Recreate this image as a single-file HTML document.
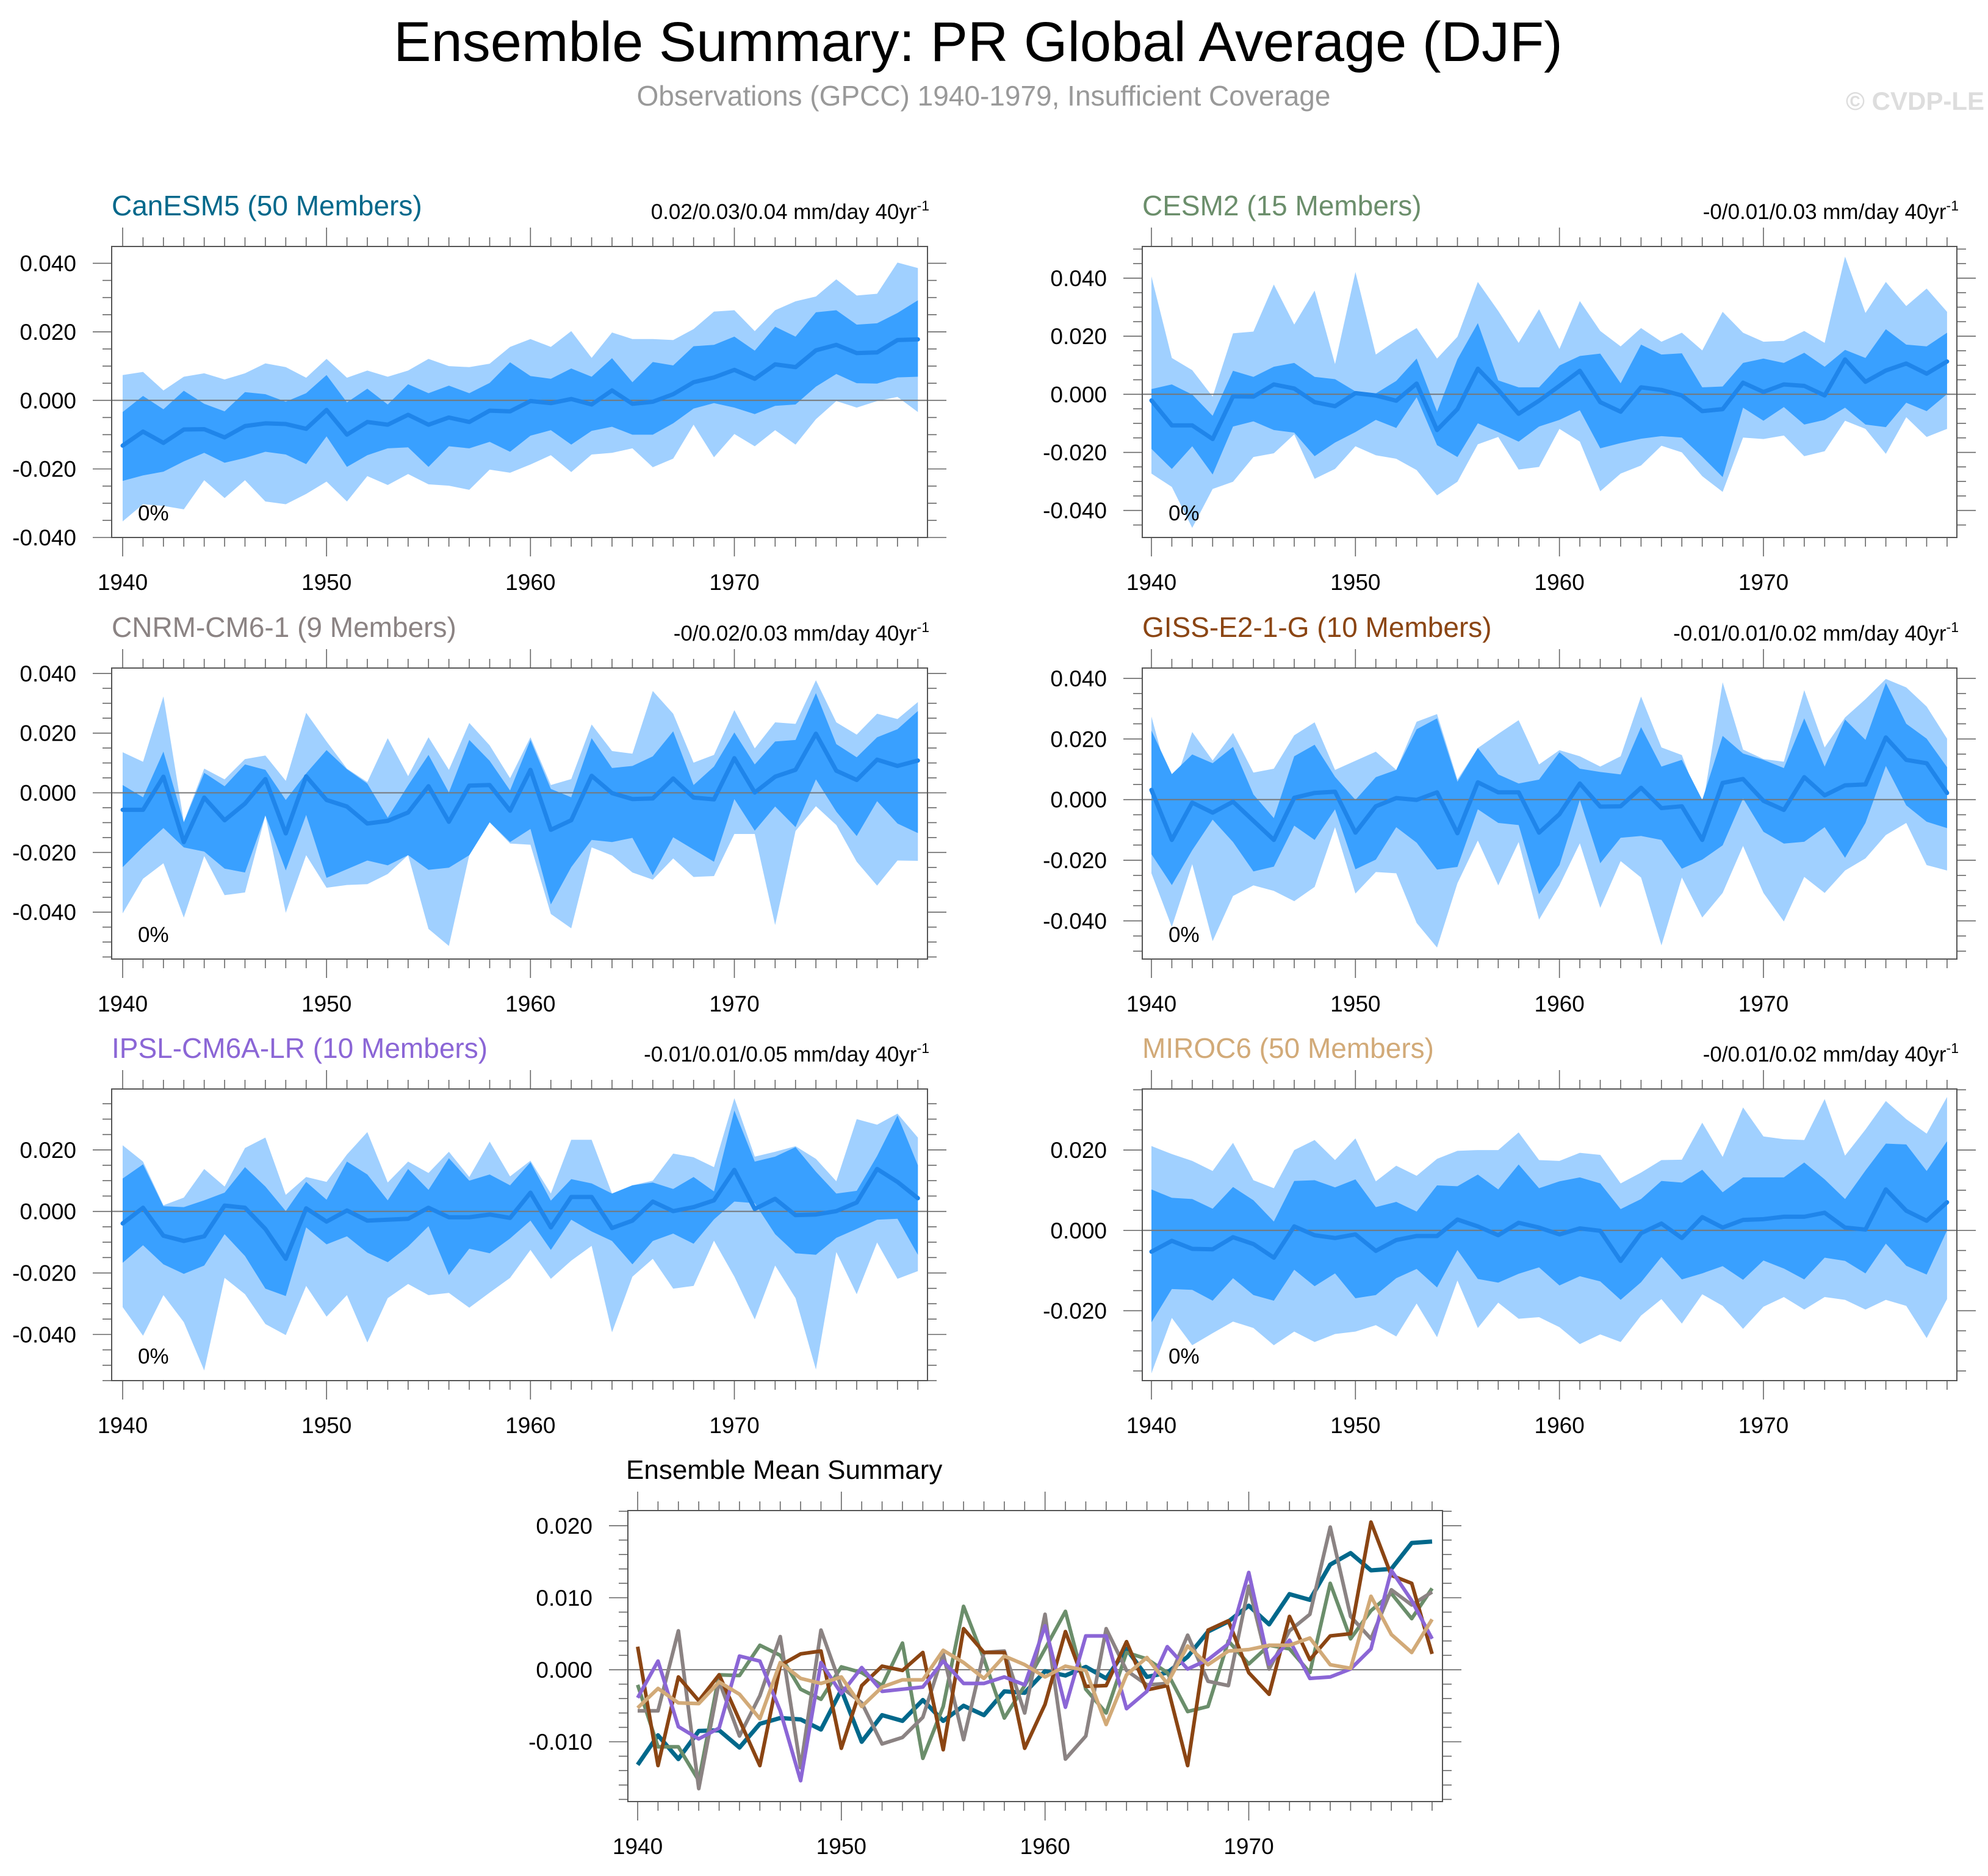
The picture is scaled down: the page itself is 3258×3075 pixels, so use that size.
<!DOCTYPE html>
<html><head><meta charset="utf-8"><title>Ensemble Summary: PR Global Average (DJF)</title>
<style>
html,body{margin:0;padding:0;background:#fff;}
svg{display:block;font-family:"Liberation Sans",Arial,sans-serif;}
</style></head>
<body>
<svg id="chart" xmlns="http://www.w3.org/2000/svg" width="3258" height="3075" viewBox="0 0 3258 3075">
<rect x="0" y="0" width="3258" height="3075" fill="#fff"/>
<text x="1603" y="100" font-size="92" text-anchor="middle" fill="#000">Ensemble Summary: PR Global Average (DJF)</text>
<text x="1612" y="173" font-size="46" text-anchor="middle" fill="#999">Observations (GPCC) 1940-1979, Insufficient Coverage</text>
<text x="3252" y="180" font-size="42" font-weight="bold" text-anchor="end" fill="#ddd">© CVDP-LE</text>
</svg>
<script>
const years=[1940,1941,1942,1943,1944,1945,1946,1947,1948,1949,1950,1951,1952,1953,1954,1955,1956,1957,1958,1959,1960,1961,1962,1963,1964,1965,1966,1967,1968,1969,1970,1971,1972,1973,1974,1975,1976,1977,1978,1979];
const xTickLabels=[1940,1950,1960,1970];
const ticksA=[-0.04,-0.02,0,0.02,0.04];
const ticksIpsl=[-0.04,-0.02,0,0.02];
const ticksMiroc=[-0.02,0,0.02];
const ticksMean=[-0.01,0,0.01,0.02];

const canMean=[-0.0132,-0.0091,-0.0124,-0.0085,-0.0084,-0.0108,-0.0075,-0.0067,-0.0069,-0.0083,-0.0028,-0.0100,-0.0063,-0.0071,-0.0042,-0.0071,-0.0050,-0.0063,-0.0030,-0.0032,-0.0002,-0.0008,0.0004,-0.0012,0.0029,-0.0010,-0.0004,0.0018,0.0053,0.0067,0.0089,0.0063,0.0105,0.0097,0.0146,0.0162,0.0138,0.0140,0.0176,0.0178];
const canHi=[-0.0034,0.0013,-0.0026,0.0028,-0.0010,-0.0032,0.0024,0.0018,-0.0004,0.0021,0.0074,-0.0006,0.0034,-0.0012,0.0047,0.0021,0.0043,0.0021,0.0051,0.0111,0.0071,0.0063,0.0093,0.0069,0.0123,0.0053,0.0112,0.0102,0.0158,0.0162,0.0186,0.0145,0.0215,0.0186,0.0257,0.0263,0.0221,0.0225,0.0255,0.0292];
const canLo=[-0.0235,-0.0219,-0.0208,-0.0178,-0.0153,-0.0182,-0.0168,-0.0150,-0.0158,-0.0186,-0.0105,-0.0194,-0.0160,-0.0140,-0.0137,-0.0194,-0.0134,-0.0140,-0.0121,-0.0150,-0.0103,-0.0087,-0.0129,-0.0089,-0.0077,-0.0100,-0.0100,-0.0067,-0.0024,-0.0008,-0.0021,-0.0040,-0.0016,-0.0012,0.0040,0.0077,0.0050,0.0049,0.0067,0.0069];
const canMax=[0.0074,0.0083,0.0029,0.0069,0.0079,0.0061,0.0079,0.0108,0.0097,0.0066,0.0121,0.0066,0.0087,0.0069,0.0087,0.0121,0.0100,0.0097,0.0107,0.0156,0.0179,0.0156,0.0202,0.0124,0.0198,0.0179,0.0179,0.0176,0.0208,0.0259,0.0263,0.0202,0.0263,0.0289,0.0303,0.0353,0.0306,0.0311,0.0402,0.0386];
const canMin=[-0.0353,-0.0303,-0.0308,-0.0318,-0.0233,-0.0285,-0.0233,-0.0295,-0.0303,-0.0273,-0.0237,-0.0295,-0.0221,-0.0247,-0.0215,-0.0245,-0.0249,-0.0261,-0.0202,-0.0211,-0.0187,-0.0160,-0.0209,-0.0158,-0.0153,-0.0140,-0.0195,-0.0170,-0.0071,-0.0166,-0.0098,-0.0134,-0.0087,-0.0129,-0.0055,-0.0002,-0.0021,-0.0002,0.0010,-0.0034];

const cesmMean=[-0.0021,-0.0107,-0.0107,-0.0154,-0.0007,-0.0008,0.0034,0.0020,-0.0027,-0.0041,0.0004,-0.0004,-0.0022,0.0037,-0.0123,-0.0051,0.0088,0.0015,-0.0067,-0.0022,0.0029,0.0081,-0.0027,-0.0060,0.0024,0.0015,-0.0004,-0.0058,-0.0051,0.0040,0.0008,0.0034,0.0029,-0.0004,0.0120,0.0043,0.0082,0.0106,0.0071,0.0113];
const cesmHi=[0.0018,0.0034,-0.0001,-0.0074,0.0081,0.0060,0.0095,0.0108,0.0060,0.0052,0.0010,0.0003,0.0046,0.0123,-0.0060,0.0121,0.0245,0.0048,0.0024,0.0024,0.0099,0.0132,0.0140,0.0038,0.0171,0.0137,0.0141,0.0024,0.0027,0.0108,0.0123,0.0108,0.0143,0.0095,0.0153,0.0125,0.0224,0.0171,0.0165,0.0212];
const cesmLo=[-0.0188,-0.0257,-0.0179,-0.0276,-0.0111,-0.0093,-0.0123,-0.0132,-0.0213,-0.0166,-0.0130,-0.0088,-0.0116,-0.0010,-0.0175,-0.0216,-0.0100,-0.0130,-0.0163,-0.0111,-0.0088,-0.0055,-0.0186,-0.0168,-0.0153,-0.0144,-0.0149,-0.0215,-0.0285,-0.0046,-0.0091,-0.0044,-0.0104,-0.0088,-0.0046,-0.0104,-0.0113,-0.0029,-0.0058,0.0001];
const cesmMax=[0.0406,0.0125,0.0083,-0.0008,0.0210,0.0216,0.0378,0.0240,0.0357,0.0104,0.0421,0.0137,0.0186,0.0228,0.0123,0.0198,0.0387,0.0287,0.0177,0.0293,0.0156,0.0321,0.0218,0.0165,0.0228,0.0181,0.0212,0.0151,0.0284,0.0212,0.0181,0.0184,0.0218,0.0177,0.0474,0.0280,0.0387,0.0304,0.0364,0.0284];
const cesmMin=[-0.0273,-0.0319,-0.0460,-0.0326,-0.0301,-0.0216,-0.0203,-0.0138,-0.0291,-0.0257,-0.0179,-0.0210,-0.0222,-0.0261,-0.0348,-0.0301,-0.0172,-0.0147,-0.0259,-0.0250,-0.0119,-0.0163,-0.0334,-0.0273,-0.0245,-0.0177,-0.0200,-0.0282,-0.0336,-0.0149,-0.0154,-0.0142,-0.0213,-0.0196,-0.0091,-0.0119,-0.0205,-0.0079,-0.0147,-0.0119];

const cnrmMean=[-0.0057,-0.0057,0.0054,-0.0165,-0.0016,-0.0092,-0.0036,0.0046,-0.0136,0.0055,-0.0024,-0.0046,-0.0103,-0.0094,-0.0066,0.0022,-0.0097,0.0024,0.0026,-0.0060,0.0077,-0.0124,-0.0092,0.0057,-0.0001,-0.0021,-0.0019,0.0048,-0.0016,-0.0022,0.0116,0.0001,0.0054,0.0077,0.0198,0.0074,0.0043,0.0111,0.0090,0.0108];
const cnrmHi=[0.0026,-0.0015,0.0138,-0.0099,0.0067,0.0022,0.0095,0.0077,-0.0024,0.0065,0.0143,0.0079,0.0031,-0.0083,0.0025,0.0127,0.0001,0.0177,0.0107,0.0008,0.0177,0.0013,-0.0015,0.0183,0.0083,0.0090,0.0122,0.0206,0.0026,0.0088,0.0202,0.0095,0.0172,0.0177,0.0334,0.0163,0.0119,0.0186,0.0213,0.0274];
const cnrmLo=[-0.0249,-0.0181,-0.0118,-0.0183,-0.0197,-0.0254,-0.0267,-0.0076,-0.0260,-0.0074,-0.0285,-0.0256,-0.0227,-0.0243,-0.0209,-0.0258,-0.0251,-0.0209,-0.0099,-0.0165,-0.0121,-0.0374,-0.0249,-0.0158,-0.0165,-0.0151,-0.0276,-0.0149,-0.0190,-0.0231,-0.0021,-0.0127,-0.0046,-0.0115,0.0045,-0.0063,-0.0145,-0.0028,-0.0103,-0.0135];
const cnrmMax=[0.0136,0.0104,0.0323,-0.0097,0.0081,0.0045,0.0113,0.0125,0.0040,0.0268,0.0172,0.0081,0.0036,0.0183,0.0056,0.0186,0.0077,0.0234,0.0159,0.0049,0.0186,0.0026,0.0046,0.0229,0.0140,0.0131,0.0341,0.0265,0.0101,0.0127,0.0277,0.0149,0.0236,0.0231,0.0377,0.0236,0.0195,0.0265,0.0247,0.0304];
const cnrmMin=[-0.0404,-0.0288,-0.0236,-0.0418,-0.0212,-0.0343,-0.0334,-0.0076,-0.0402,-0.0209,-0.0318,-0.0309,-0.0306,-0.0272,-0.0209,-0.0456,-0.0513,-0.0209,-0.0099,-0.0170,-0.0174,-0.0406,-0.0454,-0.0183,-0.0210,-0.0267,-0.0291,-0.0220,-0.0282,-0.0279,-0.0138,-0.0138,-0.0443,-0.0128,-0.0045,-0.0108,-0.0231,-0.0311,-0.0227,-0.0228];

const gissMean=[0.0032,-0.0133,-0.0010,-0.0043,-0.0007,-0.0070,-0.0133,0.0006,0.0022,0.0026,-0.0109,-0.0022,0.0005,-0.0001,0.0024,-0.0111,0.0057,0.0024,0.0024,-0.0109,-0.0048,0.0053,-0.0023,-0.0022,0.0039,-0.0028,-0.0022,-0.0133,0.0055,0.0068,-0.0004,-0.0034,0.0074,0.0014,0.0047,0.0050,0.0205,0.0131,0.0120,0.0022];
const gissHi=[0.0228,0.0084,0.0149,0.0120,0.0174,0.0017,-0.0061,0.0143,0.0181,0.0075,-0.0001,0.0074,0.0098,0.0232,0.0268,0.0059,0.0170,0.0083,0.0053,0.0066,0.0156,0.0102,0.0091,0.0083,0.0239,0.0109,0.0131,-0.0001,0.0210,0.0152,0.0131,0.0104,0.0268,0.0109,0.0264,0.0197,0.0385,0.0250,0.0201,0.0107];
const gissLo=[-0.0180,-0.0282,-0.0167,-0.0066,-0.0140,-0.0237,-0.0221,-0.0086,-0.0133,-0.0032,-0.0230,-0.0198,-0.0091,-0.0142,-0.0231,-0.0222,-0.0032,-0.0077,-0.0084,-0.0312,-0.0216,-0.0001,-0.0210,-0.0126,-0.0120,-0.0133,-0.0228,-0.0198,-0.0151,0.0004,-0.0106,-0.0145,-0.0139,-0.0091,-0.0192,-0.0077,0.0111,-0.0019,-0.0073,-0.0094];
const gissMax=[0.0274,0.0026,0.0223,0.0129,0.0220,0.0089,0.0102,0.0212,0.0255,0.0098,0.0128,0.0158,0.0098,0.0257,0.0282,0.0066,0.0170,0.0217,0.0262,0.0116,0.0163,0.0143,0.0109,0.0143,0.0340,0.0172,0.0147,-0.0032,0.0387,0.0165,0.0134,0.0125,0.0361,0.0172,0.0271,0.0331,0.0398,0.0370,0.0307,0.0201];
const gissMin=[-0.0243,-0.0420,-0.0213,-0.0467,-0.0318,-0.0283,-0.0301,-0.0335,-0.0288,-0.0091,-0.0310,-0.0239,-0.0243,-0.0407,-0.0488,-0.0276,-0.0135,-0.0283,-0.0140,-0.0396,-0.0283,-0.0144,-0.0357,-0.0203,-0.0257,-0.0481,-0.0257,-0.0389,-0.0308,-0.0153,-0.0308,-0.0402,-0.0255,-0.0308,-0.0234,-0.0194,-0.0117,-0.0077,-0.0216,-0.0234];

const ipslMean=[-0.0039,0.0012,-0.0079,-0.0096,-0.0081,0.0019,0.0012,-0.0057,-0.0154,0.0010,-0.0033,0.0003,-0.0030,-0.0027,-0.0024,0.0012,-0.0019,-0.0019,-0.0010,-0.0021,0.0061,-0.0052,0.0047,0.0047,-0.0054,-0.0030,0.0032,0.0001,0.0014,0.0036,0.0135,0.0008,0.0041,-0.0012,-0.0010,0.0001,0.0029,0.0138,0.0096,0.0043];
const ipslHi=[0.0107,0.0153,0.0017,0.0014,0.0036,0.0061,0.0144,0.0081,0.0001,0.0096,0.0038,0.0162,0.0120,0.0036,0.0138,0.0070,0.0173,0.0100,0.0120,0.0085,0.0160,0.0035,0.0105,0.0091,0.0058,0.0085,0.0094,0.0073,0.0112,0.0065,0.0328,0.0162,0.0178,0.0209,0.0129,0.0058,0.0067,0.0180,0.0312,0.0150];
const ipslLo=[-0.0167,-0.0110,-0.0172,-0.0203,-0.0176,-0.0074,-0.0145,-0.0251,-0.0275,-0.0052,-0.0107,-0.0081,-0.0134,-0.0165,-0.0114,-0.0048,-0.0207,-0.0121,-0.0136,-0.0088,-0.0030,-0.0125,-0.0027,-0.0065,-0.0096,-0.0172,-0.0096,-0.0072,-0.0105,-0.0026,0.0032,0.0027,-0.0074,-0.0136,-0.0141,-0.0086,-0.0057,-0.0027,-0.0024,-0.0141];
const ipslMax=[0.0215,0.0162,0.0020,0.0045,0.0138,0.0081,0.0206,0.0240,0.0054,0.0112,0.0096,0.0185,0.0258,0.0094,0.0162,0.0125,0.0194,0.0112,0.0227,0.0114,0.0165,0.0058,0.0233,0.0233,0.0058,0.0085,0.0100,0.0188,0.0176,0.0144,0.0368,0.0178,0.0194,0.0212,0.0171,0.0098,0.0300,0.0282,0.0318,0.0240];
const ipslMin=[-0.0311,-0.0404,-0.0272,-0.0360,-0.0517,-0.0216,-0.0269,-0.0366,-0.0402,-0.0242,-0.0342,-0.0272,-0.0426,-0.0282,-0.0236,-0.0272,-0.0265,-0.0313,-0.0264,-0.0216,-0.0125,-0.0219,-0.0160,-0.0112,-0.0393,-0.0212,-0.0154,-0.0251,-0.0242,-0.0095,-0.0212,-0.0351,-0.0176,-0.0282,-0.0514,-0.0132,-0.0269,-0.0101,-0.0219,-0.0194];

const mirocMean=[-0.0053,-0.0026,-0.0046,-0.0047,-0.0017,-0.0034,-0.0068,0.0010,-0.0012,-0.0019,-0.0010,-0.0051,-0.0024,-0.0014,-0.0014,0.0027,0.0010,-0.0012,0.0019,0.0007,-0.0010,0.0005,-0.0001,-0.0076,-0.0007,0.0017,-0.0019,0.0033,0.0007,0.0026,0.0028,0.0034,0.0034,0.0044,0.0007,0.0002,0.0102,0.0049,0.0024,0.0070];
const mirocHi=[0.0102,0.0081,0.0078,0.0054,0.0108,0.0075,0.0022,0.0123,0.0125,0.0107,0.0127,0.0058,0.0071,0.0047,0.0112,0.0110,0.0139,0.0102,0.0164,0.0105,0.0122,0.0132,0.0117,0.0053,0.0078,0.0123,0.0119,0.0151,0.0095,0.0132,0.0132,0.0132,0.0169,0.0127,0.0078,0.0149,0.0216,0.0214,0.0148,0.0222];
const mirocLo=[-0.0229,-0.0146,-0.0148,-0.0175,-0.0119,-0.0161,-0.0175,-0.0098,-0.0139,-0.0107,-0.0169,-0.0161,-0.0119,-0.0096,-0.0142,-0.0049,-0.0121,-0.0130,-0.0108,-0.0092,-0.0137,-0.0114,-0.0127,-0.0173,-0.0129,-0.0066,-0.0122,-0.0107,-0.0089,-0.0123,-0.0075,-0.0095,-0.0122,-0.0068,-0.0076,-0.0107,-0.0033,-0.0088,-0.0110,0.0000];
const mirocMax=[0.0210,0.0190,0.0173,0.0148,0.0218,0.0125,0.0105,0.0200,0.0225,0.0175,0.0229,0.0122,0.0161,0.0136,0.0178,0.0198,0.0200,0.0200,0.0244,0.0175,0.0173,0.0193,0.0188,0.0117,0.0144,0.0175,0.0176,0.0268,0.0183,0.0306,0.0234,0.0227,0.0225,0.0327,0.0186,0.0251,0.0322,0.0277,0.0241,0.0332];
const mirocMin=[-0.0356,-0.0218,-0.0286,-0.0256,-0.0227,-0.0243,-0.0286,-0.0252,-0.0278,-0.0258,-0.0252,-0.0236,-0.0264,-0.0182,-0.0266,-0.0125,-0.0243,-0.0180,-0.0220,-0.0216,-0.0241,-0.0283,-0.0259,-0.0278,-0.0212,-0.0171,-0.0232,-0.0159,-0.0188,-0.0245,-0.0190,-0.0166,-0.0197,-0.0166,-0.0173,-0.0197,-0.0173,-0.0188,-0.0268,-0.0171];

const modelNames=["CanESM5 (50 Members)","CESM2 (15 Members)","CNRM-CM6-1 (9 Members)","GISS-E2-1-G (10 Members)","IPSL-CM6A-LR (10 Members)","MIROC6 (50 Members)"];
const trendLabels=["0.02/0.03/0.04 mm/day 40yr","-0/0.01/0.03 mm/day 40yr","-0/0.02/0.03 mm/day 40yr","-0.01/0.01/0.02 mm/day 40yr","-0.01/0.01/0.05 mm/day 40yr","-0/0.01/0.02 mm/day 40yr"];

const NS='http://www.w3.org/2000/svg';
const svg=document.getElementById('chart');
function mk(tag,attrs,parent){const e=document.createElementNS(NS,tag);for(const k in attrs)e.setAttribute(k,attrs[k]);(parent||svg).appendChild(e);return e;}
function fmt(v){const s=Math.abs(v).toFixed(3);return (v<-1e-9?'-':'')+s;}

const L={left:183,right:1520,x0:201,x70:1203.5};
const R={left:1872,right:3207,x0:1887,x70:2890};
const rowTop=[404,1095,1785], rowBot=[881,1572,2263];
const colors=["#00688b","#6b8e6b","#8b8383","#8b4513","#8b66d6","#d2aa78"];
const TC='#666', TW=1.6;

function drawAxes(g,c){
  const xs=y=>c.x0+(y-1940)*(c.x70-c.x0)/30;
  const ys=v=>c.bottom-(v-c.dom[0])/(c.dom[1]-c.dom[0])*(c.bottom-c.top);
  c.xs=xs;c.ys=ys;
  years.forEach(yr=>{
    const major=xTickLabels.indexOf(yr)>=0;const len=major?31:15;const x=xs(yr);
    const t1=mk('line',{x1:x,x2:x,y1:c.top,y2:c.top-len,stroke:TC,'stroke-width':TW},g);
    
    
    const t2=mk('line',{x1:x,x2:x,y1:c.bottom,y2:c.bottom+len,stroke:TC,'stroke-width':TW},g);
    
    
  });
  xTickLabels.forEach(yr=>{
    const t=mk('text',{x:xs(yr),y:c.bottom+86,'font-size':37,'text-anchor':'middle',fill:'#000'},g);
    t.textContent=yr;
    
    
  });
  const st=c.minor;
  for(let v=Math.ceil(c.dom[0]/st-1e-6)*st;v<=c.dom[1]+1e-9;v+=st){
    const y=ys(v);
    const major=c.ticks.some(t=>Math.abs(t-v)<1e-7);const len=major?31:15;
    const a=mk('line',{x1:c.left,x2:c.left-len,y1:y,y2:y,stroke:TC,'stroke-width':TW},g);
    
    
    const b=mk('line',{x1:c.right,x2:c.right+len,y1:y,y2:y,stroke:TC,'stroke-width':TW},g);
    
    
  }
  c.ticks.forEach(v=>{
    const t=mk('text',{x:c.left-58,y:c.ys(v)+13,'font-size':37,'text-anchor':'end',fill:'#000'},g);
    t.textContent=fmt(v);
    
    
  });
}
function poly(c,upper,lower){
  const p=[];upper.forEach((v,i)=>p.push(c.xs(years[i])+','+c.ys(v)));
  for(let i=lower.length-1;i>=0;i--)p.push(c.xs(years[i])+','+c.ys(lower[i]));
  return p.join(' ');
}
function linePts(c,arr){return arr.map((v,i)=>c.xs(years[i])+','+c.ys(v)).join(' ');}

const panelData=[
 {mean:canMean,hi:canHi,lo:canLo,max:canMax,min:canMin,dom:[-0.04,0.0449],ticks:ticksA,col:L,row:0},
 {mean:cesmMean,hi:cesmHi,lo:cesmLo,max:cesmMax,min:cesmMin,dom:[-0.0493,0.0509],ticks:ticksA,col:R,row:0},
 {mean:cnrmMean,hi:cnrmHi,lo:cnrmLo,max:cnrmMax,min:cnrmMin,dom:[-0.0557,0.0418],ticks:ticksA,col:L,row:1},
 {mean:gissMean,hi:gissHi,lo:gissLo,max:gissMax,min:gissMin,dom:[-0.0526,0.0434],ticks:ticksA,col:R,row:1},
 {mean:ipslMean,hi:ipslHi,lo:ipslLo,max:ipslMax,min:ipslMin,dom:[-0.0550,0.0398],ticks:ticksIpsl,col:L,row:2},
 {mean:mirocMean,hi:mirocHi,lo:mirocLo,max:mirocMax,min:mirocMin,dom:[-0.0374,0.0352],ticks:ticksMiroc,col:R,row:2}
];
const slugs=['canesm5','cesm2','cnrm-cm6-1','giss-e2-1-g','ipsl-cm6a-lr','miroc6'];

panelData.forEach((d,k)=>{
  const c={left:d.col.left,right:d.col.right,x0:d.col.x0,x70:d.col.x70,top:rowTop[d.row],bottom:rowBot[d.row],dom:d.dom,ticks:d.ticks,minor:0.005};
  const g=mk('g',{});
  
  
  drawAxes(g,c);
  const lb=mk('polygon',{points:poly(c,d.max,d.min),fill:'#a0d0ff'},g);
  
  
  const db=mk('polygon',{points:poly(c,d.hi,d.lo),fill:'#39a0ff'},g);
  
  
  const z=mk('line',{x1:c.left,x2:c.right,y1:c.ys(0),y2:c.ys(0),stroke:'#777','stroke-width':2},g);
  
  
  const ml=mk('polyline',{points:linePts(c,d.mean),fill:'none',stroke:'#1f85ea','stroke-width':7,'stroke-linejoin':'round','stroke-linecap':'round'},g);
  
  
  const bx=mk('rect',{x:c.left,y:c.top,width:c.right-c.left,height:c.bottom-c.top,fill:'none',stroke:'#555','stroke-width':2},g);
  
  
  const tt=mk('text',{x:c.left,y:c.top-51,'font-size':46,fill:colors[k]},g);
  tt.textContent=modelNames[k];
  
  
  const tr=mk('text',{x:c.right+3,y:c.top-45,'font-size':35,'text-anchor':'end',fill:'#000'},g);
  tr.textContent=trendLabels[k];
  const sup=mk('tspan',{'font-size':23,dy:-14},tr);
  sup.textContent='-1';
  
  
  const pc=mk('text',{x:c.left+43,y:c.bottom-28,'font-size':35,fill:'#000'},g);
  pc.textContent='0%';
  
  
});

// Ensemble mean summary
const meanSeries=[canMean,cesmMean,cnrmMean,gissMean,ipslMean,mirocMean];
const cb={left:1029,right:2364,x0:1045,x70:2046.5,top:2476,bottom:2953,dom:[-0.0183,0.0221],ticks:ticksMean,minor:0.002};
const gb=mk('g',{});


drawAxes(gb,cb);
const zb=mk('line',{x1:cb.left,x2:cb.right,y1:cb.ys(0),y2:cb.ys(0),stroke:'#777','stroke-width':2},gb);


meanSeries.forEach((s,k)=>{
  const l=mk('polyline',{points:linePts(cb,s),fill:'none',stroke:colors[k],'stroke-width':k===0?7:6,'stroke-linejoin':'round'},gb);
  
  
});
const bxb=mk('rect',{x:cb.left,y:cb.top,width:cb.right-cb.left,height:cb.bottom-cb.top,fill:'none',stroke:'#555','stroke-width':2},gb);


const tb=mk('text',{x:1026,y:2424,'font-size':44,fill:'#000'},gb);
tb.textContent='Ensemble Mean Summary';


</script>
</body></html>
